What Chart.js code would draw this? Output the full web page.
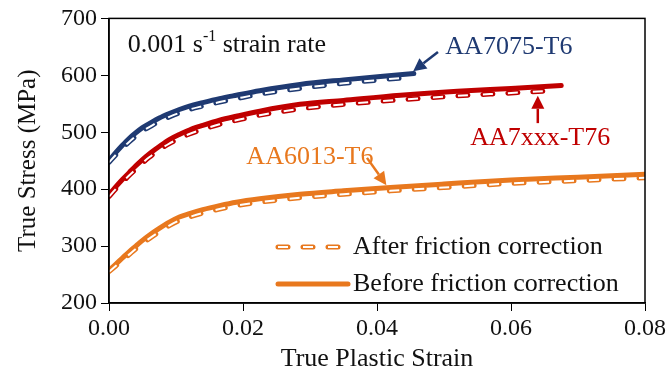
<!DOCTYPE html>
<html>
<head>
<meta charset="utf-8">
<script src="https://cdn.jsdelivr.net/npm/chart.js@4.4.1/dist/chart.umd.min.js"></script>
<style>
  html, body { margin: 0; padding: 0; background: #fff; }
  #wrap { width: 669px; height: 375px; }
</style>
</head>
<body>
<div id="wrap"><canvas id="chart" width="669" height="375"></canvas></div>
<script>
// --- Data (true plastic strain, true stress MPa) ---
const strain7075 = [0, 0.001, 0.002, 0.003, 0.004, 0.005, 0.006, 0.0075, 0.009, 0.0105, 0.012, 0.014, 0.0165, 0.019, 0.0225, 0.0285, 0.035, 0.0405, 0.0455];
const before7075 = [450, 464, 477, 489, 499, 508, 515, 525, 533, 540, 546, 552, 559, 565, 573, 584, 592, 598, 603];
const after7075  = [447, 460, 472, 483, 493, 502, 509, 519, 527, 534, 540, 546, 553, 559, 567, 577, 586, 592, 597];

const strain7xxx = [0, 0.001, 0.002, 0.003, 0.004, 0.005, 0.006, 0.0075, 0.009, 0.0105, 0.012, 0.014, 0.0165, 0.019, 0.0225, 0.0285, 0.035, 0.0435, 0.052, 0.06, 0.0675];
const before7xxx = [390, 404, 417, 429, 441, 452, 462, 475, 487, 496, 504, 512, 521, 528, 537, 549, 556, 565, 572, 577, 582];
const strain7xxxAfter = [0, 0.001, 0.002, 0.003, 0.004, 0.005, 0.006, 0.0075, 0.009, 0.0105, 0.012, 0.014, 0.0165, 0.019, 0.0225, 0.0285, 0.035, 0.0435, 0.052, 0.06, 0.066];
const after7xxx  = [387, 400, 412, 424, 435, 446, 456, 469, 480, 489, 497, 505, 514, 521, 530, 541, 549, 557, 564, 569, 573];

const strain6013 = [0, 0.001, 0.002, 0.003, 0.004, 0.005, 0.006, 0.0075, 0.009, 0.0105, 0.012, 0.014, 0.0165, 0.019, 0.0225, 0.0285, 0.035, 0.042, 0.05, 0.06, 0.07, 0.08];
const before6013 = [257, 268, 279, 290, 300, 310, 319, 331, 342, 351, 357, 364, 371, 377, 383, 391, 397, 403, 409, 416, 421, 426];
const after6013  = [255, 265, 275, 285, 295, 304, 313, 325, 336, 345, 351, 358, 365, 371, 377, 385, 391, 397, 403, 410, 415, 420];

const xTicks = [0, 0.02, 0.04, 0.06, 0.08];
const yTicks = [200, 300, 400, 500, 600, 700];

const BLUE = '#1F3A72';
const RED = '#C00000';
const ORANGE = '#E8781E';
const FONT = '"Liberation Serif", "Times New Roman", serif';

function toPoints(xs, ys) {
  return xs.map((x, i) => ({ x: x, y: ys[i] }));
}

// solid "before" curve + hollow dashed "after" curve (colored dash with white core)
function seriesSets(xs, before, xsAfter, after, color) {
  return [
    { data: toPoints(xs, before), borderColor: color, borderWidth: 5, borderCapStyle: 'round', order: 3 },
    { data: toPoints(xsAfter, after), borderColor: color, borderWidth: 5, borderDash: [10, 15], borderCapStyle: 'round', order: 2 },
    { data: toPoints(xsAfter, after), borderColor: '#ffffff', borderWidth: 2, borderDash: [10, 15], borderCapStyle: 'butt', order: 1 }
  ];
}

const datasets = [].concat(
  seriesSets(strain7075, before7075, strain7075, after7075, BLUE),
  seriesSets(strain7xxx, before7xxx, strain7xxxAfter, after7xxx, RED),
  seriesSets(strain6013, before6013, strain6013, after6013, ORANGE)
);

// --- Annotations (text and arrows placed in data coordinates) ---
const labels = [
  { text: 'AA7075-T6', x: 0.0502, y: 638, color: BLUE },
  { text: 'AA7xxx-T76', x: 0.0539, y: 478, color: RED },
  { text: 'AA6013-T6', x: 0.0205, y: 444, color: ORANGE }
];
const arrows = [
  { from: [0.0491, 641], to: [0.0454, 607], color: BLUE },
  { from: [0.0640, 516], to: [0.0640, 564], color: RED },
  { from: [0.0385, 455], to: [0.0414, 407], color: ORANGE }
];

function drawArrow(ctx, x1, y1, x2, y2, color) {
  const ang = Math.atan2(y2 - y1, x2 - x1);
  const head = 13, half = 6.5;
  const bx = x2 - head * Math.cos(ang), by = y2 - head * Math.sin(ang);
  ctx.strokeStyle = color;
  ctx.fillStyle = color;
  ctx.lineWidth = 2.5;
  ctx.beginPath();
  ctx.moveTo(x1, y1);
  ctx.lineTo(bx, by);
  ctx.stroke();
  ctx.beginPath();
  ctx.moveTo(x2, y2);
  ctx.lineTo(bx + half * Math.sin(ang), by - half * Math.cos(ang));
  ctx.lineTo(bx - half * Math.sin(ang), by + half * Math.cos(ang));
  ctx.closePath();
  ctx.fill();
}

const annotatePlugin = {
  id: 'annotate',
  afterDraw(chart) {
    const ctx = chart.ctx;
    const xs = chart.scales.x, ys = chart.scales.y;
    const area = chart.chartArea;
    ctx.save();

    // plot frame
    ctx.strokeStyle = '#000';
    ctx.lineWidth = 1.5;
    ctx.strokeRect(area.left, area.top, area.right - area.left, area.bottom - area.top);

    // strain rate note with superscript
    ctx.fillStyle = '#111';
    ctx.textBaseline = 'alphabetic';
    ctx.textAlign = 'left';
    let px = xs.getPixelForValue(0.0028), py = ys.getPixelForValue(641);
    ctx.font = '26px ' + FONT;
    ctx.fillText('0.001 s', px, py);
    px += ctx.measureText('0.001 s').width;
    ctx.font = '16px ' + FONT;
    ctx.fillText('-1', px, py - 11);
    px += ctx.measureText('-1').width;
    ctx.font = '26px ' + FONT;
    ctx.fillText(' strain rate', px, py);

    labels.forEach(l => {
      ctx.fillStyle = l.color;
      ctx.fillText(l.text, xs.getPixelForValue(l.x), ys.getPixelForValue(l.y));
    });
    arrows.forEach(a => {
      drawArrow(ctx, xs.getPixelForValue(a.from[0]), ys.getPixelForValue(a.from[1]),
                xs.getPixelForValue(a.to[0]), ys.getPixelForValue(a.to[1]), a.color);
    });

    // legend
    const lx1 = 278, lx2 = 348, r1 = 247, r2 = 284;
    ctx.lineCap = 'round';
    ctx.setLineDash([10, 15]);
    ctx.strokeStyle = ORANGE;
    ctx.lineWidth = 5;
    ctx.beginPath(); ctx.moveTo(lx1, r1); ctx.lineTo(lx2, r1); ctx.stroke();
    ctx.lineCap = 'butt';
    ctx.strokeStyle = '#fff';
    ctx.lineWidth = 2;
    ctx.beginPath(); ctx.moveTo(lx1, r1); ctx.lineTo(lx2, r1); ctx.stroke();
    ctx.setLineDash([]);
    ctx.lineCap = 'round';
    ctx.strokeStyle = ORANGE;
    ctx.lineWidth = 5;
    ctx.beginPath(); ctx.moveTo(lx1, r2); ctx.lineTo(lx2, r2); ctx.stroke();
    ctx.fillStyle = '#111';
    ctx.font = '26px ' + FONT;
    ctx.textBaseline = 'middle';
    ctx.fillText('After friction correction', 353, r1);
    ctx.fillText('Before friction correction', 353, r2);
    ctx.restore();
  }
};

const ctx = document.getElementById('chart').getContext('2d');
new Chart(ctx, {
  type: 'line',
  data: { datasets: datasets },
  options: {
    responsive: false,
    animation: false,
    layout: { padding: { top: 16, right: 23, left: 0, bottom: 0 } },
    elements: {
      point: { radius: 0 },
      line: { cubicInterpolationMode: 'monotone', fill: false }
    },
    plugins: { legend: { display: false }, tooltip: { enabled: false } },
    scales: {
      x: {
        type: 'linear',
        min: 0,
        max: 0.08,
        afterBuildTicks: s => { s.ticks = xTicks.map(v => ({ value: v })); },
        afterFit: s => { s.height = 72; },
        ticks: {
          color: '#111',
          font: { family: FONT, size: 24 },
          padding: 3,
          maxRotation: 0,
          callback: v => Number(v).toFixed(2)
        },
        grid: { drawOnChartArea: false, drawTicks: true, tickLength: 8, color: '#000' },
        border: { display: true, color: '#000', width: 1.5 },
        title: { display: true, text: 'True Plastic Strain', color: '#111', font: { family: FONT, size: 26 }, padding: { top: -6, bottom: 0 } }
      },
      y: {
        min: 200,
        max: 700,
        afterBuildTicks: s => { s.ticks = yTicks.map(v => ({ value: v })); },
        afterFit: s => { s.width = 109; },
        ticks: {
          color: '#111',
          font: { family: FONT, size: 24 },
          padding: 4
        },
        grid: { drawOnChartArea: false, drawTicks: true, tickLength: 8, color: '#000' },
        border: { display: true, color: '#000', width: 1.5 },
        title: { display: true, text: 'True Stress (MPa)', color: '#111', font: { family: FONT, size: 25 }, padding: { top: 13, bottom: 0 } }
      }
    }
  },
  plugins: [annotatePlugin]
});
</script>
</body>
</html>
